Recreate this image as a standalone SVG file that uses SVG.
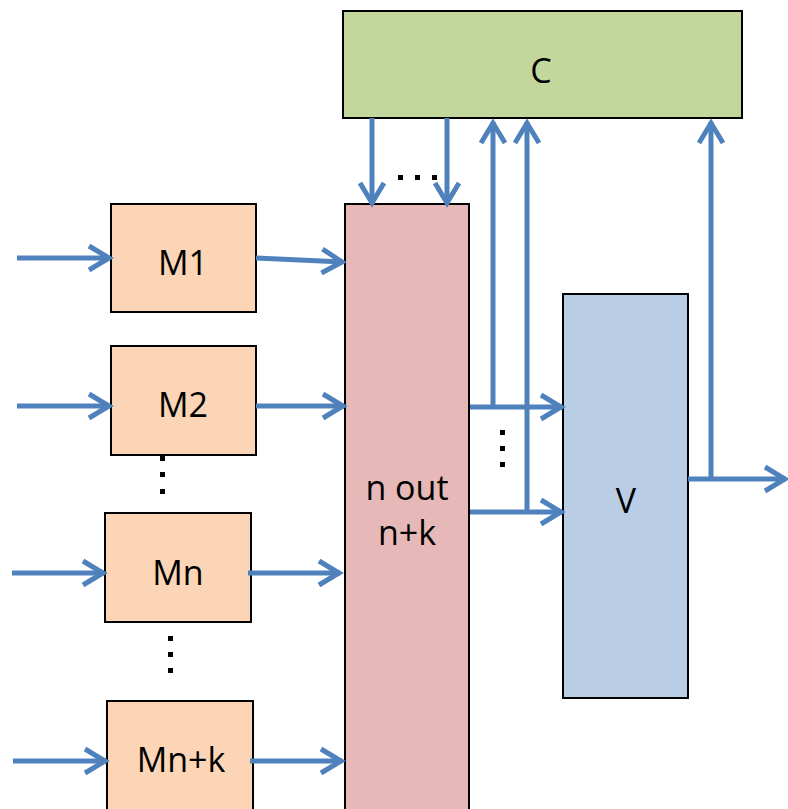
<svg xmlns="http://www.w3.org/2000/svg" width="788" height="809" viewBox="0 0 788 809">
<style>
.box{stroke:#000;stroke-width:2}
.m{fill:#FBD5B5}
.t{font-family:"Open Sans","Liberation Sans",sans-serif;font-size:34px;fill:#000;text-anchor:middle}
.c{fill:none;stroke:#4F81BD;stroke-width:5;marker-end:url(#ah)}
.d{fill:#000}
</style>
<defs>
<marker id="ah" markerUnits="userSpaceOnUse" markerWidth="40" markerHeight="40" viewBox="-30 -20 40 40" refX="0" refY="0" orient="auto" overflow="visible">
<path d="M-21,-12 L-1,0 L-21,12" fill="none" stroke="#4F81BD" stroke-width="5"/>
</marker>
</defs>
<rect width="788" height="809" fill="#fff"/>
<g id="C"><rect class="box" x="343" y="11" width="399" height="107" fill="#C3D69B"/><text class="t" x="541" y="83">C</text></g>
<g id="P"><rect class="box" x="345" y="204" width="124" height="610" fill="#E6B9B8"/><text class="t" x="407" y="500">n out</text><text class="t" x="407" y="545">n+k</text></g>
<g id="V"><rect class="box" x="563" y="294" width="125" height="404" fill="#B9CDE5"/><text class="t" x="626" y="513">V</text></g>
<g id="M1"><rect class="box m" x="111" y="204" width="145" height="108"/><text class="t" x="183" y="275">M1</text></g>
<g id="M2"><rect class="box m" x="111" y="346" width="145" height="109"/><text class="t" x="183" y="417">M2</text></g>
<g id="Mn"><rect class="box m" x="105" y="513" width="146" height="109"/><text class="t" x="178" y="585">Mn</text></g>
<g id="Mnk"><rect class="box m" x="107" y="701" width="146" height="112"/><text class="t" x="181" y="772">Mn+k</text></g>
<g id="dots">
<rect class="d" x="160" y="456" width="5" height="5"/><rect class="d" x="160" y="472" width="5" height="5"/><rect class="d" x="160" y="489" width="5" height="5"/>
<rect class="d" x="168" y="636" width="5" height="5"/><rect class="d" x="168" y="652" width="5" height="5"/><rect class="d" x="168" y="668" width="5" height="5"/>
<rect class="d" x="398" y="175" width="5" height="5"/><rect class="d" x="415" y="175" width="5" height="5"/><rect class="d" x="432" y="175" width="5" height="5"/>
<rect class="d" x="500" y="430" width="5" height="5"/><rect class="d" x="500" y="446" width="5" height="5"/><rect class="d" x="500" y="462" width="5" height="5"/>
</g>
<g id="connectors">
<path class="c" d="M17,258 H110"/>
<path class="c" d="M256,258 L343,262"/>
<path class="c" d="M17,406 H110"/>
<path class="c" d="M256,406 H344"/>
<path class="c" d="M12,573 H104"/>
<path class="c" d="M248,573 H340"/>
<path class="c" d="M13,761 H106"/>
<path class="c" d="M250,761 H342"/>
<path class="c" d="M372,118 V204"/>
<path class="c" d="M447,118 V204"/>
<path class="c" d="M493,407 V122"/>
<path class="c" d="M527,512 V122"/>
<path class="c" d="M470,407 H562"/>
<path class="c" d="M470,512 H562"/>
<path class="c" d="M688,479 H786"/>
<path class="c" d="M711,479 V122"/>
</g>
</svg>
